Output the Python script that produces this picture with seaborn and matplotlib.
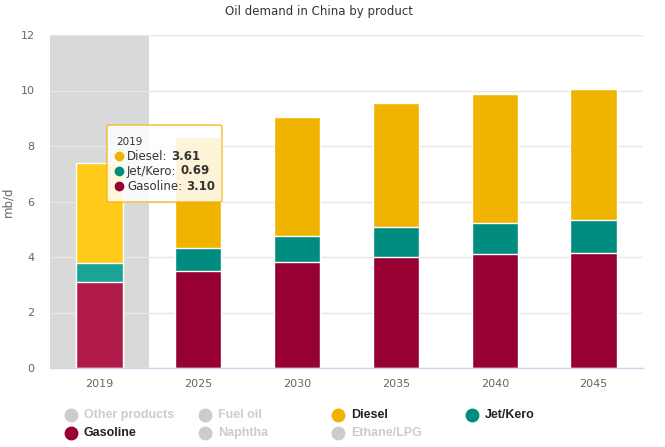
import matplotlib
matplotlib.use("Agg")
import matplotlib.pyplot as plt
from matplotlib.lines import Line2D
from matplotlib.patches import FancyBboxPatch
import numpy as np
import pandas as pd
import seaborn as sns

# ──────────────────────────────────────────────
# Data (mb/d)
# ──────────────────────────────────────────────
years = ["2019", "2025", "2030", "2035", "2040", "2045"]
gasoline = [3.10, 3.48, 3.82, 4.00, 4.11, 4.15]
jet_kero = [0.69, 0.85, 0.95, 1.08, 1.12, 1.19]
diesel = [3.61, 3.99, 4.28, 4.47, 4.65, 4.72]

legend_row1 = ["Other products", "Fuel oil", "Diesel", "Jet/Kero"]
legend_row2 = ["Gasoline", "Naphtha", "Ethane/LPG"]
active = {"Diesel", "Jet/Kero", "Gasoline"}

colors = {"Gasoline": "#960032", "Jet/Kero": "#008c7e", "Diesel": "#f0b400"}
hover = {"Gasoline": "#b01b4a", "Jet/Kero": "#1aa396", "Diesel": "#ffca1a"}

df = pd.DataFrame({"year": years, "Gasoline": gasoline,
                   "Jet/Kero": jet_kero, "Diesel": diesel})
df["top_jet"] = df["Gasoline"] + df["Jet/Kero"]
df["top_diesel"] = df["top_jet"] + df["Diesel"]

sns.set_theme(style="white")
plt.rcParams["font.family"] = ["DejaVu Sans"]

W, H = 665, 447
fig = plt.figure(figsize=(W / 100, H / 100), dpi=100)
ax = fig.add_axes([50 / W, 1 - 368 / H, 593 / W, 333 / H])

# hover band on the first category
ax.axvspan(-0.5, 0.5, color="#d9d9d9", zorder=0, lw=0)


def pal(series):
    return [hover[series]] + [colors[series]] * (len(years) - 1)


# stacked bars drawn as cumulative totals, top layer first
for col, series in [("top_diesel", "Diesel"), ("top_jet", "Jet/Kero"), ("Gasoline", "Gasoline")]:
    sns.barplot(data=df, x="year", y=col, hue="year", palette=pal(series),
                width=0.47, edgecolor="white", linewidth=1, legend=False,
                ax=ax, zorder=2, saturation=1)

ax.set_ylim(0, 12)
ax.set_xlim(-0.5, len(years) - 0.5)
ax.set_yticks(np.arange(0, 13, 2))
ax.yaxis.grid(True, color="#e6e6e6", lw=1)
ax.set_axisbelow(True)
for s in ["top", "right", "left"]:
    ax.spines[s].set_visible(False)
ax.spines["bottom"].set_color("#ccd6eb")
ax.spines["bottom"].set_linewidth(1)
ax.tick_params(axis="both", length=0, labelsize=8, labelcolor="#666666")
ax.tick_params(axis="x", pad=8)
ax.tick_params(axis="y", pad=11)
ax.set_xlabel("")
ax.set_ylabel("")

fig.text(8 / W, 1 - 202 / H, "mb/d", rotation=90, ha="center", va="center",
         fontsize=8.5, color="#666666")
fig.text(319 / W, 1 - 12 / H, "Oil demand in China by product", ha="center",
         va="center", fontsize=8.5, color="#333333")

# legend, laid out like the reference
col_x = [71, 205, 338, 472]
for row_y, names in [(415, legend_row1), (433, legend_row2)]:
    for x, name in zip(col_x, names):
        on = name in active
        mc = colors[name] if on else "#cccccc"
        tc = "#222222" if on else "#cccccc"
        fig.add_artist(Line2D([x / W], [1 - row_y / H], marker="o", markersize=9,
                              color=mc, lw=0, transform=fig.transFigure))
        fig.text((x + 13) / W, 1 - row_y / H, name, ha="left", va="center",
                 fontsize=9, fontweight="bold", color=tc,
                 family=["Liberation Sans", "DejaVu Sans"])

# tooltip for the hovered 2019 column
box = FancyBboxPatch((107 / W, 1 - 202 / H), 115 / W, 77 / H,
                     boxstyle="round,pad=0,rounding_size=0.004",
                     transform=fig.transFigure, facecolor="white", alpha=0.85,
                     edgecolor="#f0b400", lw=1, zorder=10)
fig.add_artist(box)
fig.text(116 / W, 1 - 142 / H, years[0], fontsize=7.5, color="#333333",
         va="center", zorder=11)
renderer = fig.canvas.get_renderer()
tips = [("Diesel", diesel[0]), ("Jet/Kero", jet_kero[0]), ("Gasoline", gasoline[0])]
for i, (name, val) in enumerate(tips):
    y = 1 - (156 + 15 * i) / H
    fig.add_artist(Line2D([119 / W], [y], marker="o", markersize=6,
                          color=colors[name], lw=0, transform=fig.transFigure,
                          zorder=11))
    t = fig.text(127 / W, y, f"{name}:", fontsize=8.5, color="#333333",
                 va="center", zorder=11)
    x_end = t.get_window_extent(renderer).x1
    fig.text((x_end + 4) / W, y, f"{val:.2f}", fontsize=8.5, fontweight="bold",
             color="#333333", va="center", zorder=11)

fig.savefig("out.png", dpi=100)
